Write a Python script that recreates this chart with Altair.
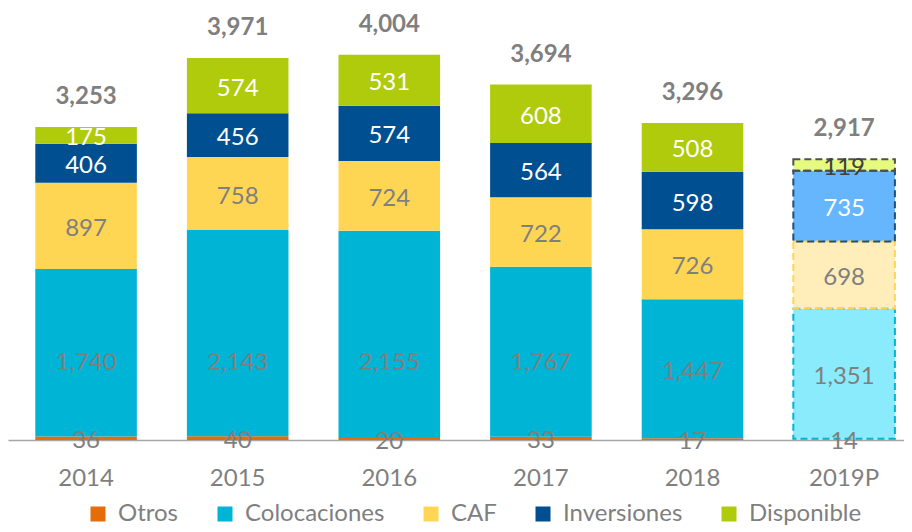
import altair as alt
import pandas as pd

years = ["2014", "2015", "2016", "2017", "2018", "2019P"]
series = ["Otros", "Colocaciones", "CAF", "Inversiones", "Disponible"]
otros = [36, 40, 20, 33, 17, 14]
colocaciones = [1740, 2143, 2155, 1767, 1447, 1351]
caf = [897, 758, 724, 722, 726, 698]
inversiones = [406, 456, 574, 564, 598, 735]
disponible = [175, 574, 531, 608, 508, 119]
totals = [3253, 3971, 4004, 3694, 3296, 2917]

main_fill = ["#E46C0A", "#00B4D6", "#FFD653", "#004F91", "#B0CB0B"]
proj_fill = ["#8AEBFD", "#8AEBFD", "#FFEEBA", "#65B6FD", "#E6FA7F"]
proj_stroke = ["#00B4D6", "#00B4D6", "#FFD653", "#1F4E79", "#505050"]
main_text = ["#7F7F7F", "#7F7F7F", "#7F7F7F", "#FFFFFF", "#FFFFFF"]
proj_text = ["#7F7F7F", "#7F7F7F", "#7F7F7F", "#FFFFFF", "#404040"]

vals = [otros, colocaciones, caf, inversiones, disponible]
rows = []
for i, y in enumerate(years):
    for j, s in enumerate(series):
        proj = y == "2019P"
        rows.append({
            "year": y,
            "series": s,
            "key": s + " P" if proj else s,
            "order": j,
            "value": vals[j][i],
            "tcolor": proj_text[j] if proj else main_text[j],
        })
df = pd.DataFrame(rows)
tot_df = pd.DataFrame({"year": years, "total": totals})

keys = series + [s + " P" for s in series]
fills = main_fill + proj_fill
pkeys = [s + " P" for s in series[1:]]
pstrokes = proj_stroke[1:]

FONT = "Lato"
GRAY = "#7F7F7F"

xenc = alt.X(
    "year:N", sort=years,
    scale=alt.Scale(paddingInner=0.33, paddingOuter=0.12, align=0.75),
    axis=alt.Axis(title=None, labelAngle=0, labelFont=FONT, labelFontSize=24,
                  labelColor=GRAY, labelPadding=26, ticks=False, tickSize=0,
                  domainColor="#A6A6A6", domainWidth=1.5),
)
yscale = alt.Scale(domain=[0, 4490], nice=False, zero=True)

base = alt.Chart(df).transform_stack(
    stack="value", groupby=["year"], as_=["y0", "y1"],
    sort=[alt.SortField("order", order="ascending")],
).transform_calculate(
    mid="datum.series == 'Colocaciones' ? min((datum.y0 + datum.y1) / 2, 830) : (datum.y0 + datum.y1) / 2"
)

bars = base.mark_bar().encode(
    x=xenc,
    y=alt.Y("y0:Q", scale=yscale, axis=None),
    y2="y1:Q",
    fill=alt.Fill(
        "key:N",
        scale=alt.Scale(domain=keys, range=fills),
        legend=alt.Legend(
            values=series, orient="none", legendX=78, legendY=494,
            direction="horizontal", title=None, symbolType="square",
            symbolSize=225, symbolStrokeWidth=0, labelFont=FONT,
            labelFontSize=24, labelColor=GRAY, labelOffset=8,
            columnPadding=34, padding=0,
        ),
    ),
)

outline = base.transform_filter(
    (alt.datum.year == "2019P") & (alt.datum.series != "Otros")
).mark_bar(fillOpacity=0, strokeWidth=2, strokeDash=[7, 4]).encode(
    x=xenc,
    y=alt.Y("y0:Q", scale=yscale, axis=None),
    y2="y1:Q",
    stroke=alt.Stroke("key:N", scale=alt.Scale(domain=pkeys, range=pstrokes), legend=None),
)

labels = base.mark_text(font=FONT, fontSize=24, baseline="middle", align="center", dy=3).encode(
    x=xenc,
    y=alt.Y("mid:Q", scale=yscale, axis=None),
    text=alt.Text("value:Q", format=","),
    color=alt.Color("tcolor:N", scale=None),
)

tot = alt.Chart(tot_df).mark_text(
    font=FONT, fontSize=24, fontWeight="bold", color=GRAY,
    baseline="middle", align="center", dy=-30,
).encode(
    x=xenc,
    y=alt.Y("total:Q", scale=yscale, axis=None),
    text=alt.Text("total:Q", format=","),
)

chart = alt.layer(bars, outline, labels, tot).properties(
    width=896, height=432, padding=0,
).configure_view(stroke=None)

chart.save("out.html", embed_options={"renderer": "svg", "actions": False})
